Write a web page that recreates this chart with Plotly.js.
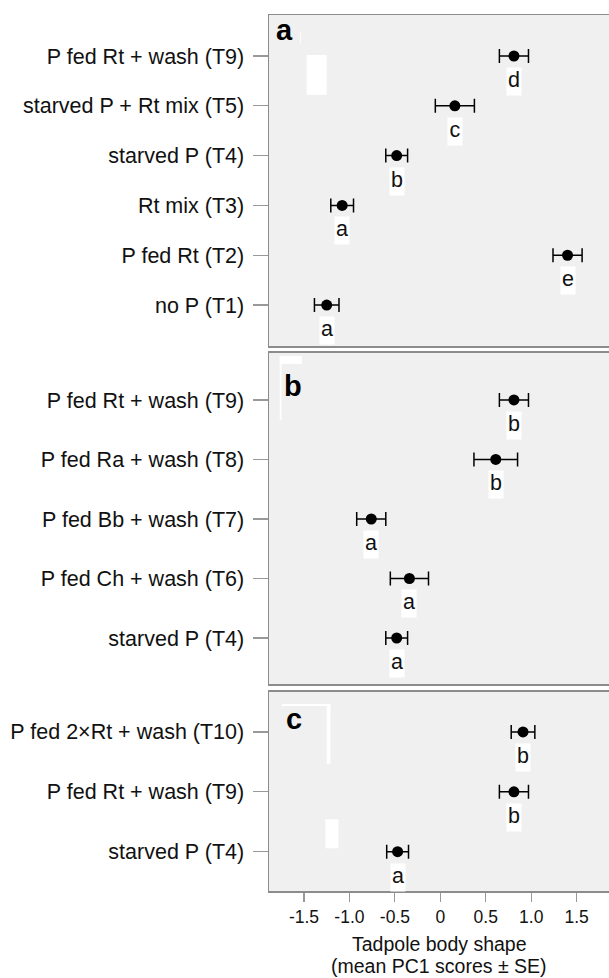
<!DOCTYPE html>
<html>
<head>
<meta charset="utf-8">
<script src="https://cdn.plot.ly/plotly-3.0.1.min.js"></script>
<style>
  html, body { margin: 0; padding: 0; background: #ffffff; }
  #chart { width: 609px; height: 978px; }
</style>
</head>
<body>
<div id="chart"></div>
<script>
// ---- Data (categories listed bottom to top) ----
const catsA = ["no P (T1)", "P fed Rt (T2)", "Rt mix (T3)", "starved P (T4)", "starved P + Rt mix (T5)", "P fed Rt + wash (T9)"];
const meanA = [-1.25, 1.40, -1.08, -0.48, 0.16, 0.81];
const seA   = [0.135, 0.16, 0.125, 0.12, 0.215, 0.16];
const letA  = ["a", "e", "a", "b", "c", "d"];

const catsB = ["starved P (T4)", "P fed Ch + wash (T6)", "P fed Bb + wash (T7)", "P fed Ra + wash (T8)", "P fed Rt + wash (T9)"];
const meanB = [-0.48, -0.34, -0.76, 0.61, 0.81];
const seB   = [0.12, 0.21, 0.16, 0.24, 0.16];
const letB  = ["a", "a", "a", "b", "b"];

const catsC = ["starved P (T4)", "P fed Rt + wash (T9)", "P fed 2×Rt + wash (T10)"];
const meanC = [-0.47, 0.81, 0.91];
const seC   = [0.12, 0.16, 0.13];
const letC  = ["a", "b", "b"];

const panelLabels = ["a", "b", "c"];
const xTickVals = [-1.5, -1.0, -0.5, 0, 0.5, 1.0, 1.5];
const xTickText = ["-1.5", "-1.0", "-0.5", "0", "0.5", "1.0", "1.5"];
const xTitleLines = ["Tadpole body shape", "(mean PC1 scores ± SE)"];

// ---- Styles ----
const FONT = "Liberation Sans, Arial, Helvetica, sans-serif";
const TXT = "#111111";
const BORDER = "#8c8c8c";
const TICKC = "#999999";
const BG = "#f0f0f0";
const XR = [-1.885, 1.856];

function trace(cats, means, ses, xa, ya) {
  return {
    type: "scatter", mode: "markers",
    x: means, y: cats, xaxis: xa, yaxis: ya,
    marker: { color: "#000000", size: 11 },
    error_x: { type: "data", array: ses, visible: true, color: "#000000", thickness: 1.5, width: 7 },
    hoverinfo: "skip", showlegend: false
  };
}

const data = [
  trace(catsA, meanA, seA, "x", "y"),
  trace(catsB, meanB, seB, "x2", "y2"),
  trace(catsC, meanC, seC, "x3", "y3")
];

function xAxis(anchor, showTicks) {
  return {
    anchor: anchor, range: XR, showgrid: false, zeroline: false,
    showline: true, mirror: true, linecolor: BORDER, linewidth: 1.5,
    tickmode: "array", tickvals: xTickVals, ticktext: xTickText,
    ticks: showTicks ? "outside" : "", ticklen: 9, tickcolor: TICKC, tickwidth: 1.2,
    showticklabels: showTicks,
    tickfont: { family: FONT, size: 17.5, color: TXT },
    fixedrange: true
  };
}
function yAxis(anchor, domain, cats, range) {
  return {
    anchor: anchor, domain: domain, type: "category",
    categoryorder: "array", categoryarray: cats, range: range,
    showgrid: false, zeroline: false,
    showline: true, mirror: false, linecolor: BORDER, linewidth: 1.5,
    ticks: "outside", ticklen: 15, tickcolor: TICKC, tickwidth: 1.2,
    tickfont: { family: FONT, size: 21.5, color: TXT },
    ticklabelstandoff: 4,
    fixedrange: true
  };
}

// letter annotations with white boxes
const annotations = [];
function addLetters(cats, means, lets, xa, ya) {
  for (let i = 0; i < cats.length; i++) {
    annotations.push({
      x: means[i], y: cats[i], xref: xa, yref: ya,
      text: lets[i], showarrow: false,
      xanchor: "center", yanchor: "top", yshift: -11,
      width: 14, height: 27, valign: "top", align: "center",
      bgcolor: "#ffffff", borderpad: 0,
      font: { family: FONT, size: 21.5, color: TXT }
    });
  }
}
addLetters(catsA, meanA, letA, "x", "y");
addLetters(catsB, meanB, letB, "x2", "y2");
addLetters(catsC, meanC, letC, "x3", "y3");

// panel letters
const panelPos = [[0.015, 1.0037], [0.038, 0.5973], [0.044, 0.2171]];
panelLabels.forEach((p, i) => {
  annotations.push({
    x: panelPos[i][0], y: panelPos[i][1], xref: "paper", yref: "paper",
    text: "<b>" + p + "</b>", showarrow: false, xanchor: "left", yanchor: "top",
    font: { family: FONT, size: 29, color: "#000000" }
  });
});

// x axis title (two lines), placed by pixel row
const PLOT_TOP = 15, PLOT_BOT = 891;
const titleRows = [944, 965.5];
xTitleLines.forEach((t, i) => {
  annotations.push({
    x: 0.5, y: (PLOT_BOT - titleRows[i]) / (PLOT_BOT - PLOT_TOP), xref: "paper", yref: "paper",
    text: t, showarrow: false, xanchor: "center", yanchor: "middle",
    font: { family: FONT, size: 19.5, color: TXT }
  });
});

// decorative white artefacts present in the original figure
const W = "#ffffff";
function art(xa, ya, x0, x1, y0, y1) {
  return { type: "rect", xref: xa, yref: ya, x0: x0, x1: x1, y0: y0, y1: y1,
           fillcolor: W, line: { width: 0 }, layer: "below" };
}
const shapes = [
  art("x", "y", -1.470, -1.250, 4.22, 5.02),
  art("x", "y", -1.545, -1.535, 5.24, 5.48),
  art("x2", "y2", -1.767, -1.525, 4.605, 4.739),
  art("x2", "y2", -1.767, -1.748, 3.664, 4.739),
  art("x3", "y3", -1.746, -1.206, 2.434, 2.468),
  art("x3", "y3", -1.250, -1.209, 1.465, 2.468),
  art("x3", "y3", -1.264, -1.121, 0.057, 0.541)
];

const layout = {
  width: 609, height: 978,
  margin: { l: 269, r: 0, t: 15, b: 87, pad: 0 },
  paper_bgcolor: "#ffffff", plot_bgcolor: BG,
  showlegend: false,
  font: { family: FONT, color: TXT },
  xaxis: xAxis("y", false),
  xaxis2: xAxis("y2", false),
  xaxis3: xAxis("y3", true),
  yaxis: yAxis("x", [0.6221, 1.0], catsA, [-0.823, 5.823]),
  yaxis2: yAxis("x2", [0.2363, 0.6142], catsB, [-0.773, 4.79]),
  yaxis3: yAxis("x3", [0.0, 0.2272], catsC, [-0.657, 2.668]),
  annotations: annotations,
  shapes: shapes
};

Plotly.newPlot("chart", data, layout, { staticPlot: true, displayModeBar: false });
</script>
</body>
</html>
